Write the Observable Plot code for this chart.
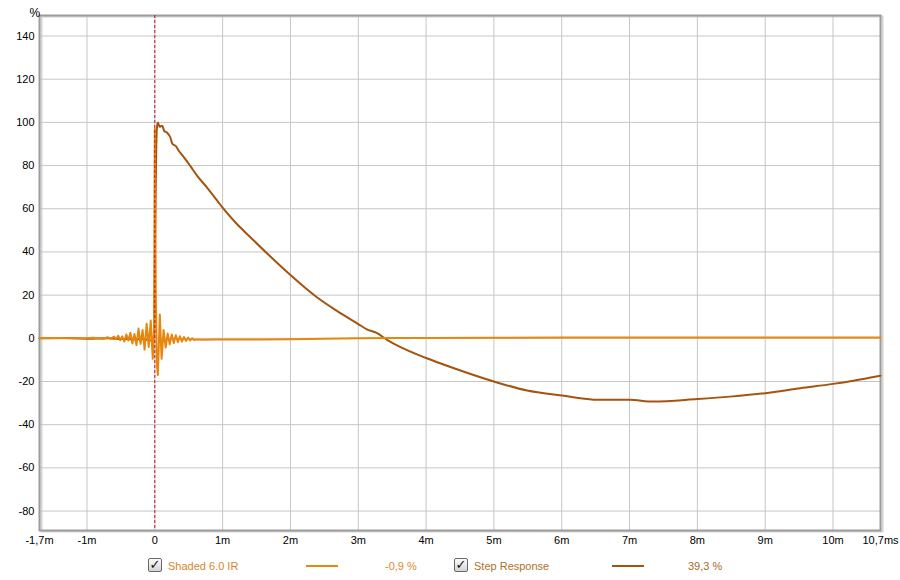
<!DOCTYPE html>
<html><head><meta charset="utf-8">
<script src="https://cdn.jsdelivr.net/npm/d3@7"></script>
<script src="https://cdn.jsdelivr.net/npm/@observablehq/plot@0.6"></script>
<style>
body{margin:0;background:#fff;font-family:"Liberation Sans",Arial,sans-serif;}
#wrap{position:relative;width:900px;height:580px;overflow:hidden;}
#legend{position:absolute;left:0;top:552px;width:900px;height:28px;font-size:11px;}
.it{position:absolute;top:8px;line-height:13px;white-space:nowrap;}
.cb{position:absolute;top:6px;width:12px;height:12px;border:1px solid #6a6a6a;border-radius:2px;background:linear-gradient(#fcfcfc,#d4d4d4);font-size:13px;line-height:12px;text-align:center;font-weight:bold;color:#111;font-family:"DejaVu Sans",sans-serif;}
.ln{position:absolute;top:13px;height:2px;width:32px;}
</style></head><body>
<div id="wrap"><div id="chart"></div><div id="legend"></div></div>
<script>
// ---- data ----
const xTicks = [-1.7, -1, 0, 1, 2, 3, 4, 5, 6, 7, 8, 9, 10, 10.7];
const xLabels = ["-1,7m", "-1m", "0", "1m", "2m", "3m", "4m", "5m", "6m", "7m", "8m", "9m", "10m", "10,7ms"];
const xGrid = [-1, 0, 1, 2, 3, 4, 5, 6, 7, 8, 9, 10];
const yTicks = [-80, -60, -40, -20, 0, 20, 40, 60, 80, 100, 120, 140];

const irTime = [-1.7, -1.4, -1.1, -0.9, -0.75, -0.7, -0.65, -0.6, -0.57, -0.54, -0.51, -0.48, -0.45, -0.42, -0.39, -0.36, -0.33, -0.30, -0.27, -0.24, -0.21, -0.18, -0.15, -0.12, -0.09, -0.06, -0.03, -0.012, 0.0, 0.015, 0.03, 0.045, 0.074, 0.1, 0.13, 0.16, 0.19, 0.22, 0.25, 0.28, 0.31, 0.34, 0.37, 0.40, 0.43, 0.46, 0.49, 0.52, 0.55, 0.58, 0.62, 0.7, 0.9, 1.2, 1.6, 2.0, 2.5, 3.0, 3.5, 4.0, 5, 6, 7, 8, 9, 10, 10.7];
const irValue = [0.1, 0.2, -0.1, 0.3, -0.3, 0.5, -0.2, 0.8, -0.4, 1.2, -0.9, 0.9, -1.5, 1.8, -1.0, 2.6, -2.4, 2.0, -3.2, 4.5, -2.6, 3.8, -5.2, 6.8, -4.0, 8.2, -9.5, 4, 97, 20, -12, -17, 11, -9.5, 3.8, -4.3, 2.2, -2.8, 1.8, -2.2, 1.4, -1.8, 1.0, -1.5, 0.6, -1.2, 0.3, -1.0, 0.0, -0.8, -0.5, -0.7, -0.6, -0.6, -0.5, -0.4, -0.2, 0.0, 0.1, 0.2, 0.3, 0.35, 0.4, 0.4, 0.4, 0.4, 0.4];

const stepTime = [-1.7, -1.3, -1.0, -0.7, -0.5, -0.3, -0.2, -0.1, -0.03, -0.01, 0.0, 0.01, 0.02, 0.03, 0.045, 0.07, 0.11, 0.14, 0.18, 0.23, 0.26, 0.31, 0.35, 0.40, 0.45, 0.53, 0.62, 0.77, 0.92, 1.0, 1.2, 1.41, 1.70, 2.0, 2.39, 2.68, 3.0, 3.12, 3.27, 3.43, 3.63, 4.0, 4.37, 5.0, 5.49, 6.0, 6.47, 7.0, 7.35, 8.0, 8.48, 9.0, 9.52, 10.0, 10.3, 10.7];
const stepValue = [0, 0.2, -0.2, 0, -0.3, -0.5, -0.3, -0.8, -1, 2, 30, 60, 85, 97, 100, 98, 98.4, 96, 95.3, 93, 90, 89, 87, 85, 83, 79.5, 75.5, 69.8, 63.8, 60.5, 53.3, 46.8, 38.0, 29.3, 19, 12.8, 6.6, 4.3, 2.5, -0.8, -4.2, -9.1, -13.4, -20, -24.2, -26.5, -28.4, -28.5, -29.3, -28.1, -27, -25.4, -23.1, -21.1, -19.6, -17.3];

const seriesNames = ["Shaded 6.0 IR", "Step Response"];
const seriesReadout = ["-0,9 %", "39,3 %"];
const seriesColors = ["#e8860e", "#a4540e"];

const ir = irTime.map((t, i) => ({t, v: irValue[i]}));
const step = stepTime.map((t, i) => ({t, v: stepValue[i]}));

const chart = Plot.plot({
  width: 900,
  height: 552,
  marginLeft: 39,
  marginRight: 20,
  marginTop: 15,
  marginBottom: 22,
  style: {fontFamily: "'Liberation Sans', Arial, sans-serif", fontSize: "11px", color: "#000", background: "#fff"},
  x: {domain: [-1.7, 10.7]},
  y: {domain: [-89, 149.5]},
  marks: [
    Plot.frame({stroke: "#d4d4d4", strokeWidth: 2, dx: 2, dy: 1}),
    Plot.gridX(xGrid, {stroke: "#c6c6c6", strokeOpacity: 1}),
    Plot.gridY(yTicks, {stroke: "#c6c6c6", strokeOpacity: 1}),
    Plot.frame({stroke: "#9c9c9c", strokeWidth: 2}),
    Plot.axisX(xTicks, {tickSize: 0, tickPadding: 6, tickFormat: (d, i) => xLabels[i], label: null, fill: "#000"}),
    Plot.axisY(yTicks, {tickSize: 0, tickPadding: 5, tickFormat: d => String(d), label: null, fill: "#000"}),
    Plot.text(["%"], {frameAnchor: "top-left", dx: -10, dy: -7, fontSize: 12, fill: "#000"}),
    Plot.line(step, {x: "t", y: "v", stroke: seriesColors[1], strokeWidth: 2, curve: "monotone-x"}),
    Plot.line(ir, {x: "t", y: "v", stroke: seriesColors[0], strokeWidth: 2}),
    Plot.ruleX([0], {stroke: "#c8101e", strokeWidth: 1, strokeDasharray: "3,2"})
  ]
});
document.getElementById("chart").appendChild(chart);

// ---- legend ----
const lg = document.getElementById("legend");
const layout = [
  {cb: 148, name: 168, line: 306, val: 385, textColor: "#d4862c", valColor: "#de8a2a"},
  {cb: 454, name: 474, line: 612, val: 688, textColor: "#b0702c", valColor: "#a8692a"}
];
layout.forEach((L, i) => {
  const cb = document.createElement("div");
  cb.className = "cb"; cb.style.left = L.cb + "px"; cb.textContent = "✓";
  lg.appendChild(cb);
  const nm = document.createElement("div");
  nm.className = "it"; nm.style.left = L.name + "px"; nm.style.color = L.textColor; nm.textContent = seriesNames[i];
  lg.appendChild(nm);
  const ln = document.createElement("div");
  ln.className = "ln"; ln.style.left = L.line + "px"; ln.style.background = seriesColors[i];
  lg.appendChild(ln);
  const vl = document.createElement("div");
  vl.className = "it"; vl.style.left = L.val + "px"; vl.style.color = L.valColor; vl.textContent = seriesReadout[i];
  lg.appendChild(vl);
});
</script>
</body></html>
